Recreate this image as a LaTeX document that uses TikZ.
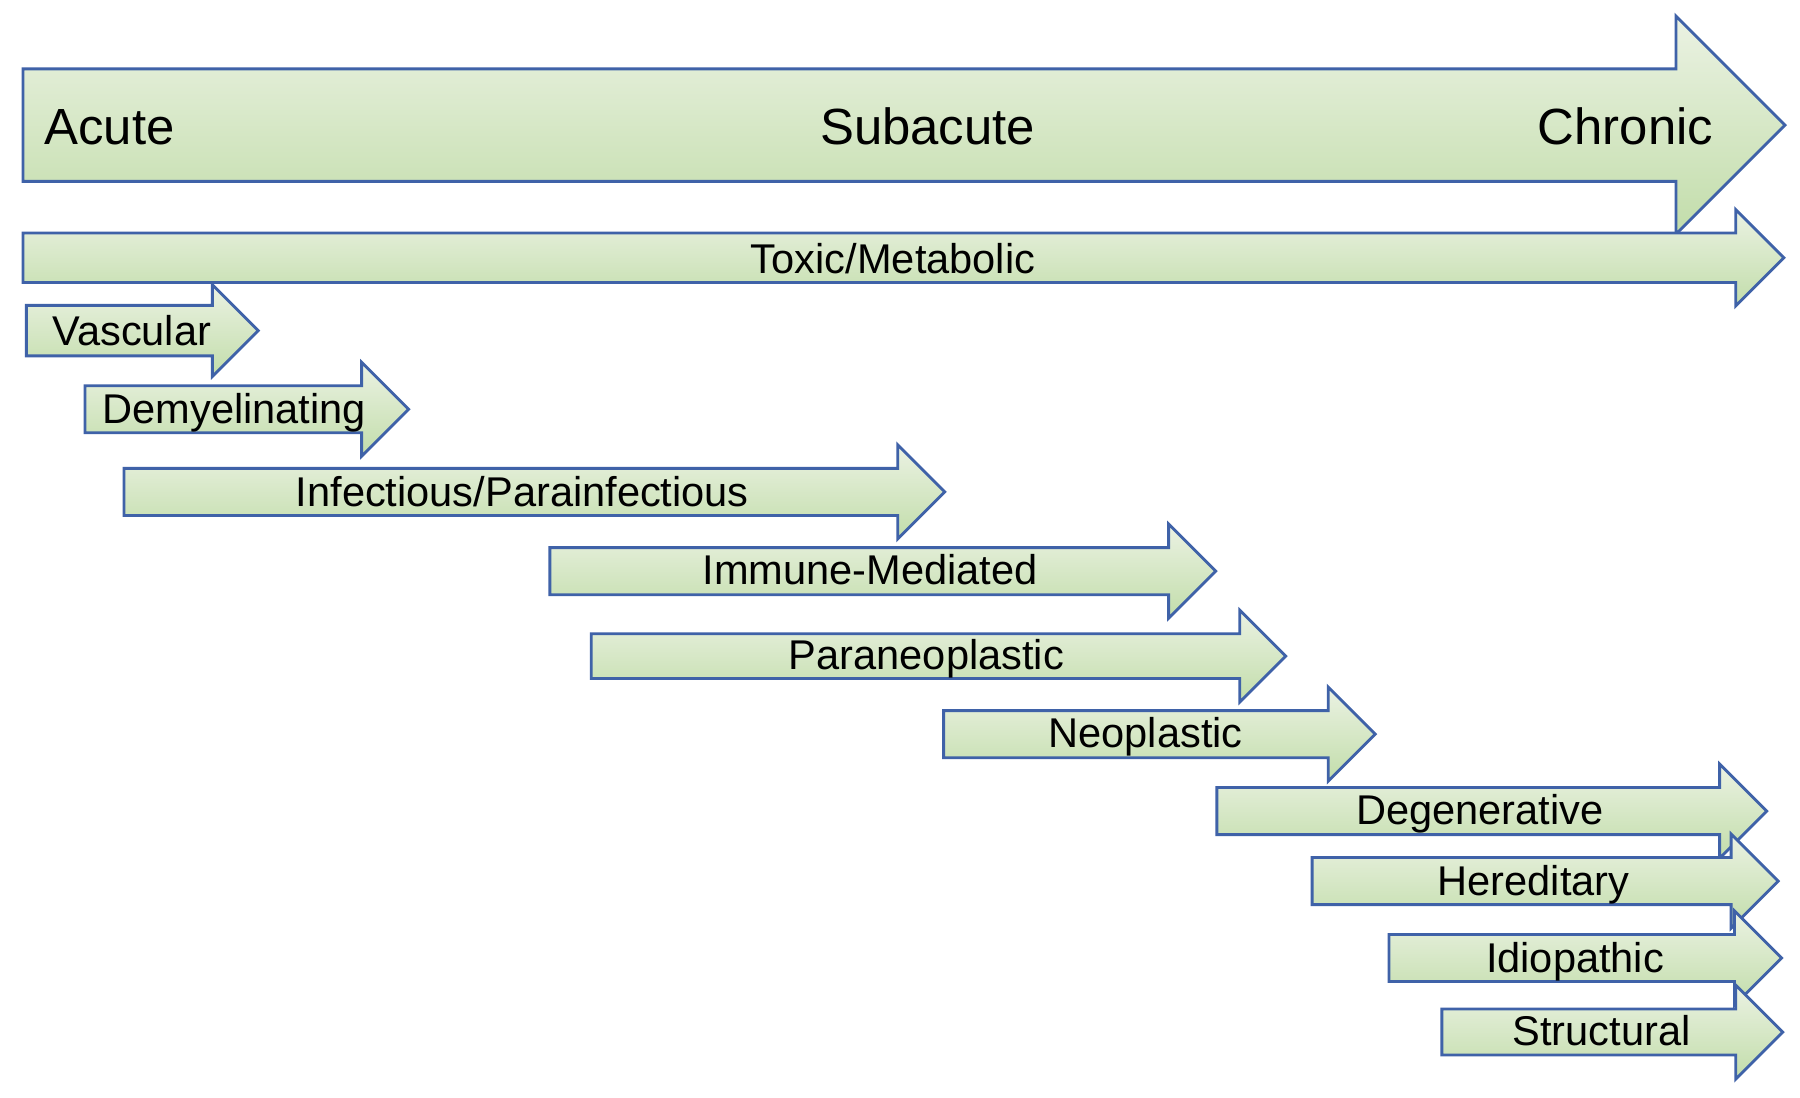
\documentclass[tikz,border=0pt]{standalone}
\usepackage{fontspec}
\setmainfont{Liberation Sans}
\definecolor{edgeblue}{HTML}{3F62A8}
\definecolor{gtop}{HTML}{EBF2E3}
\definecolor{gbot}{HTML}{C2DDAA}
\tikzset{
  garrow/.style={draw=edgeblue, line width=0.7pt, line join=miter, top color=gtop, bottom color=gbot},
  biglabel/.style={font=\fontsize{12.6}{14}\selectfont, inner sep=0pt, anchor=base},
  smalllabel/.style={font=\fontsize{10.3}{12}\selectfont, inner sep=0pt, anchor=base}
}
% #1 left x, #2 body top, #3 body bottom, #4 head base x, #5 head half height
\newcommand{\greenarrow}[5]{%
  \pgfmathsetmacro{\gmid}{(#2+#3)/2}%
  \pgfmathsetmacro{\gtip}{#4+#5}%
  \pgfmathsetmacro{\ghtop}{\gmid-#5}%
  \pgfmathsetmacro{\ghbot}{\gmid+#5}%
  \path[garrow] (#1,#2) -- (#4,#2) -- (#4,\ghtop) -- (\gtip,\gmid) -- (#4,\ghbot) -- (#4,#3) -- (#1,#3) -- cycle;%
}
\begin{document}
\begin{tikzpicture}[x=0.01cm,y=-0.01cm]
\useasboundingbox (0,0) rectangle (1568,956);
\fill[white] (0,0) rectangle (1568,956);
% time axis
\greenarrow{20}{60}{158}{1460}{95}
\node[biglabel, anchor=base west] (acute) at (38,126) {Acute};
\node[biglabel] (subacute) at (808,126) {Subacute};
\node[biglabel, anchor=base east] (chronic) at (1493,126) {Chronic};
% categories
\greenarrow{20}{203}{246}{1512}{42}
\node[smalllabel] (toxic) at (778,238) {Toxic/Metabolic};
\greenarrow{23}{266}{310}{185}{40}
\node[smalllabel, anchor=base west] (vascular) at (45,301) {Vascular};
\greenarrow{74}{336}{377}{315}{41}
\node[smalllabel] (demyel) at (204,369) {Demyelinating};
\greenarrow{108}{408}{449}{782}{41}
\node[smalllabel] (infect) at (455,441) {Infectious/Parainfectious};
\greenarrow{479}{477}{518}{1018}{41}
\node[smalllabel] (immune) at (758,509) {Immune-Mediated};
\greenarrow{515}{552}{591}{1080}{40}
\node[smalllabel] (paraneo) at (807,583) {Paraneoplastic};
\greenarrow{822}{619}{660}{1157}{41}
\node[smalllabel] (neo) at (998,651) {Neoplastic};
\greenarrow{1060}{686}{727}{1498}{41}
\node[smalllabel] (degen) at (1289,718) {Degenerative};
\greenarrow{1143}{747}{788}{1508}{41}
\node[smalllabel] (hered) at (1336,780) {Hereditary};
\greenarrow{1210}{814}{855}{1511}{41}
\node[smalllabel] (idio) at (1372,847) {Idiopathic};
\greenarrow{1256}{879}{919}{1512}{41}
\node[smalllabel] (struct) at (1395,911) {Structural};
\end{tikzpicture}
\end{document}
